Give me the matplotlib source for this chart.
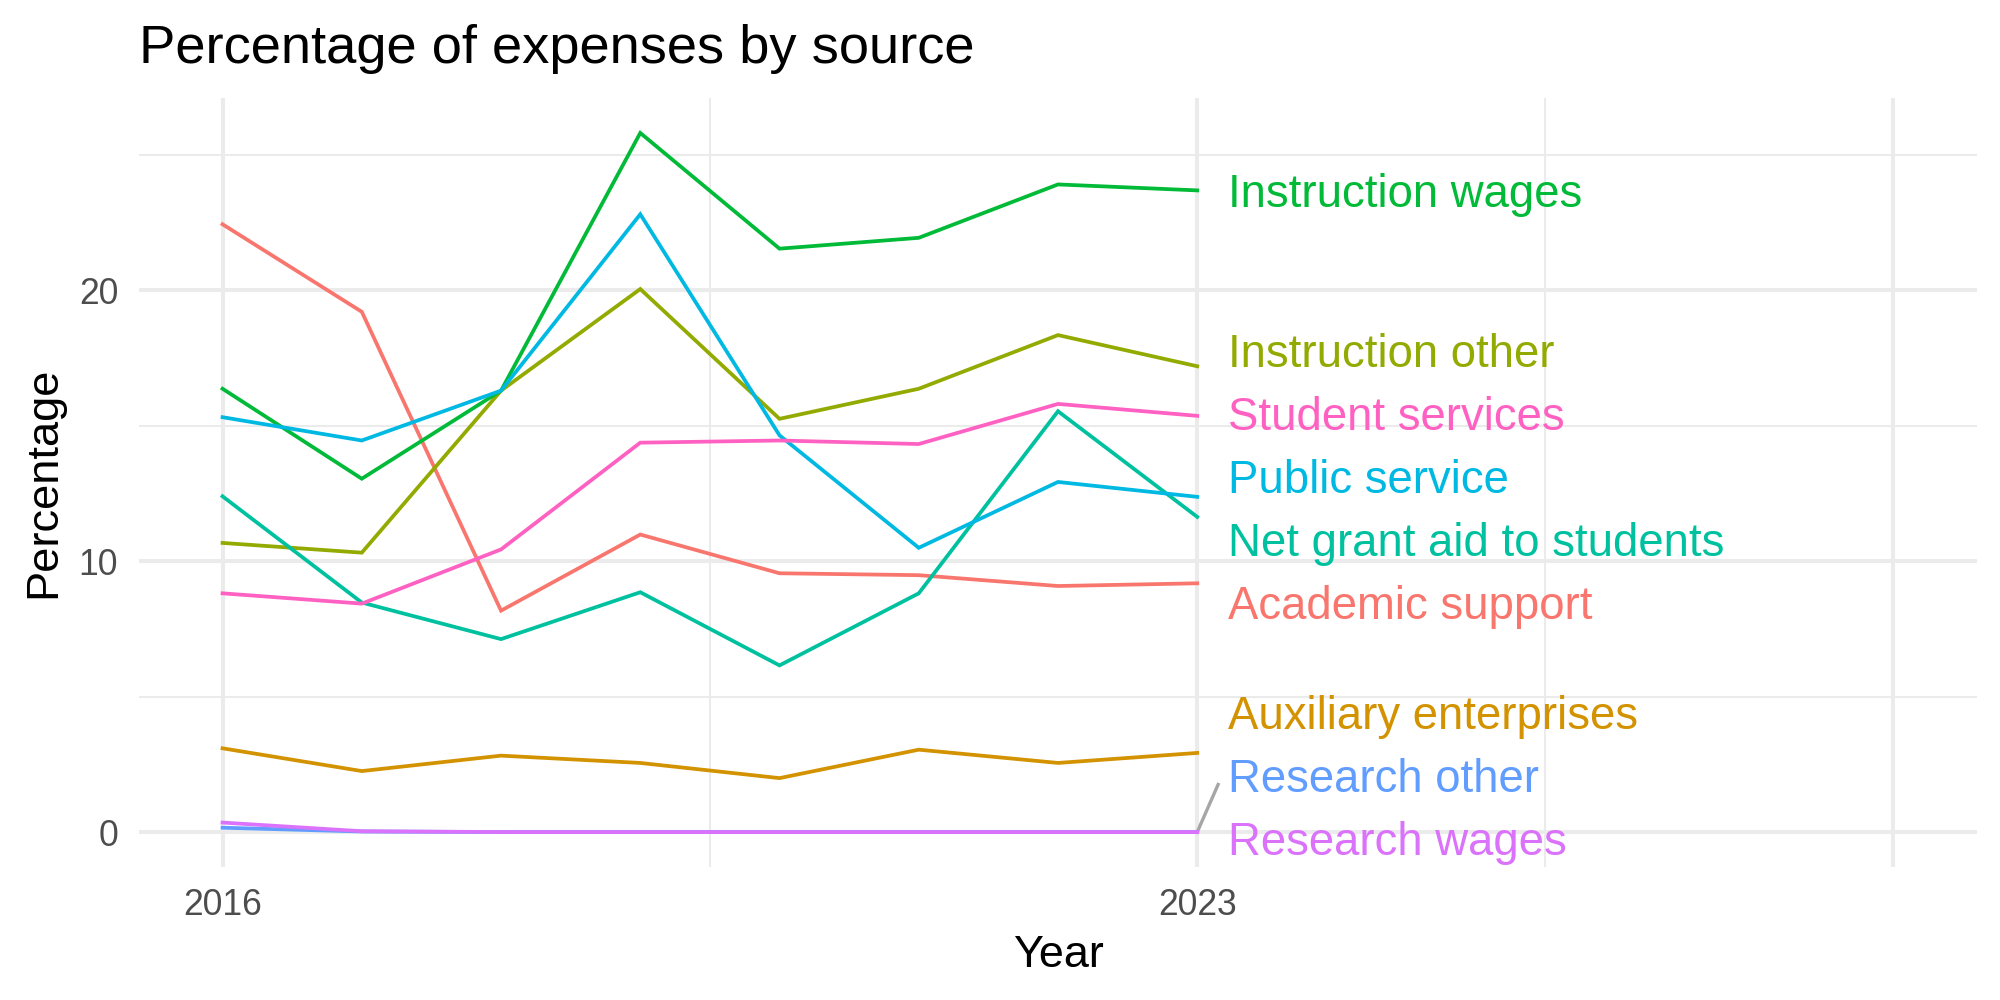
import matplotlib
matplotlib.use("Agg")
import matplotlib.pyplot as plt
import numpy as np

plt.rcParams['font.family'] = ['Liberation Sans', 'DejaVu Sans']

# ---------------- data ----------------
years = [2016, 2017, 2018, 2019, 2020, 2021, 2022, 2023]
categories = ["Academic support", "Auxiliary enterprises", "Instruction other",
              "Instruction wages", "Net grant aid to students", "Public service",
              "Research other", "Research wages", "Student services"]
academic_support = [22.43, 19.20, 8.17, 10.98, 9.55, 9.48, 9.08, 9.18]
auxiliary_enterprises = [3.09, 2.25, 2.82, 2.55, 1.99, 3.04, 2.55, 2.92]
instruction_other = [10.67, 10.31, 16.29, 20.04, 15.25, 16.36, 18.34, 17.19]
instruction_wages = [16.36, 13.04, 16.29, 25.80, 21.53, 21.93, 23.90, 23.68]
net_grant_aid = [12.39, 8.47, 7.12, 8.85, 6.15, 8.81, 15.53, 11.63]
public_service = [15.31, 14.45, 16.29, 22.80, 14.64, 10.49, 12.92, 12.37]
research_other = [0.16, 0.02, 0.0, 0.0, 0.0, 0.0, 0.0, 0.0]
research_wages = [0.35, 0.03, 0.0, 0.0, 0.0, 0.0, 0.0, 0.0]
student_services = [8.81, 8.43, 10.43, 14.37, 14.45, 14.32, 15.80, 15.36]
series = [academic_support, auxiliary_enterprises, instruction_other,
          instruction_wages, net_grant_aid, public_service,
          research_other, research_wages, student_services]
colors = ["#F8766D", "#D39200", "#93AA00", "#00BA38", "#00C19F",
          "#00B9E3", "#619CFF", "#DB72FB", "#FF61C3"]
x_breaks = [2016, 2023, 2028]
x_labels = ["2016", "2023", ""]
y_breaks = [0, 10, 20]

# ---------------- figure ----------------
W, H = 2000, 1000
fig = plt.figure(figsize=(10, 5), dpi=200)
L, R, T, B = 139, 1977, 98, 867
ax = fig.add_axes([L / W, 1 - B / H, (R - L) / W, (B - T) / H])

# ggplot-style limits with 5% expansion
xmin, xmax = min(x_breaks), max(x_breaks)
xr = xmax - xmin
ax.set_xlim(xmin - 0.05 * xr, xmax + 0.05 * xr)
allv = np.concatenate([np.array(s) for s in series])
ymin, ymax = min(0, allv.min()), allv.max()
yr = ymax - ymin
ax.set_ylim(ymin - 0.05 * yr, ymax + 0.05 * yr)

grid_col = "#EBEBEB"
ax.set_xticks(x_breaks)
ax.set_xticklabels(x_labels)
ax.set_xticks([(x_breaks[i] + x_breaks[i + 1]) / 2 for i in range(len(x_breaks) - 1)], minor=True)
ax.set_yticks(y_breaks)
ax.set_yticklabels([str(v) for v in y_breaks])
ax.set_yticks([(y_breaks[i] + y_breaks[i + 1]) / 2 for i in range(len(y_breaks) - 1)] + [y_breaks[-1] + 5], minor=True)
ax.grid(which='major', color=grid_col, linewidth=1.45)
ax.grid(which='minor', color=grid_col, linewidth=0.75)
ax.set_axisbelow(True)
for s in ax.spines.values():
    s.set_visible(False)
ax.tick_params(which='both', length=0)
ax.tick_params(axis='both', which='major', labelsize=12.8, labelcolor="#4D4D4D", pad=7.5)

for vals, c in zip(series, colors):
    ax.plot(years, vals, color=c, linewidth=1.35, solid_joinstyle='miter', zorder=3)

# ---------------- repelled labels (1-D) ----------------
ylo, yhi = ax.get_ylim()
px_per_unit = (B - T) / (yhi - ylo)
gap = 63 / px_per_unit
lo = ylo + 29 / px_per_unit
hi = yhi - 29 / px_per_unit
last = np.array([s[-1] for s in series], dtype=float)
n = len(last)
order = sorted(range(n), key=lambda i: (-last[i], i))
pos = last.copy()
for _ in range(2000):
    moved = False
    for a, b in zip(order[:-1], order[1:]):
        d = pos[a] - pos[b]
        if d < gap - 1e-9:
            push = (gap - d) / 2
            pos[a] += push
            pos[b] -= push
            moved = True
    pos = np.clip(pos, lo, hi)
    if not moved:
        break

label_x = years[-1] + 0.22
px_per_year = (R - L) / (ax.get_xlim()[1] - ax.get_xlim()[0])
cap_half = 16.7 / px_per_unit
half_h = 0.35
for i in range(n):
    ax.text(label_x, pos[i] - cap_half, categories[i], color=colors[i], fontsize=16.4,
            ha='left', va='baseline', zorder=4)
    # segment from point to nearest point on label box
    bx0 = label_x - 0.07
    by0, by1 = pos[i] - half_h, pos[i] + half_h
    px, py = years[-1], last[i]
    nx = max(bx0, px)
    ny = min(max(py, by0), by1)
    dist = np.hypot((nx - px) * px_per_year, (ny - py) * px_per_unit)
    if dist > 45:
        ax.plot([px, nx], [py, ny], color="#A6A6A6", linewidth=1.2, zorder=2)

# ---------------- titles ----------------
fig.text(L / W, 1 - 62.7 / H, "Percentage of expenses by source", fontsize=19.6,
         ha='left', va='baseline', color='black')
fig.text((L + R) / 2 / W, 1 - 967 / H, "Year", fontsize=16.2, ha='center',
         va='baseline', color='black')
fig.text(44 / W, 1 - (T + B) / 2 / H, "Percentage", fontsize=16.3, ha='center',
         va='center', rotation=90, color='black')

fig.savefig("out.png", dpi=200, facecolor='white')
